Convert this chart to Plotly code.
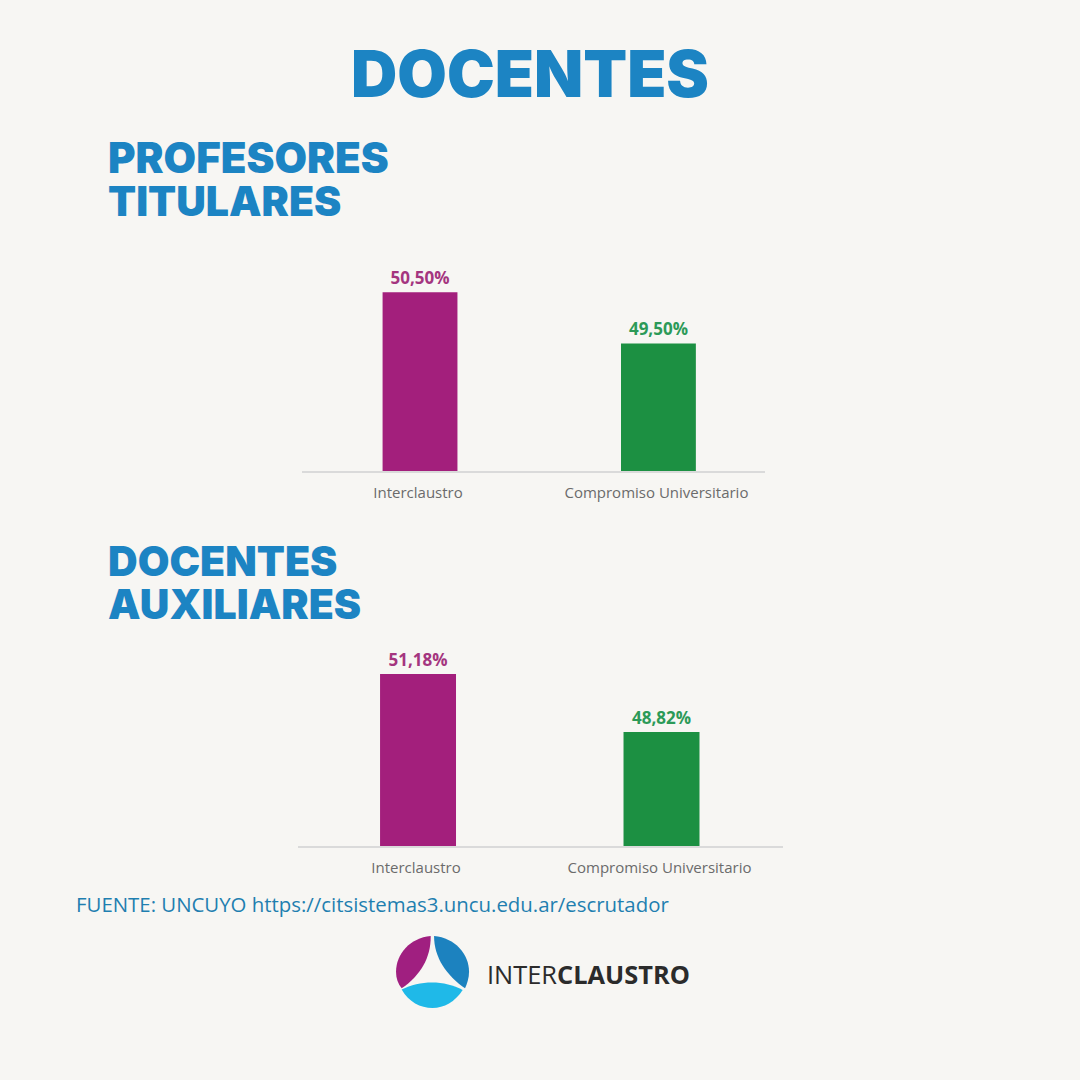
import plotly.graph_objects as go

# Data
categories = ["Interclaustro", "Compromiso Universitario"]
titulares = [50.50, 49.50]
auxiliares = [51.18, 48.82]
titulares_labels = ["50,50%", "49,50%"]
auxiliares_labels = ["51,18%", "48,82%"]

bar_colors = ["#A31F7C", "#1C9042"]
label_colors = ["#A4357F", "#2C9A58"]
blue = "#1C84C3"
bg = "#F7F6F3"
W = 1080


def px(x):
    return x / W


def py(y):
    return 1 - y / W


def pt(x, y):
    return f"{px(x):.4f},{py(y):.4f}"


def label(text, x, y, size, color, family="Inter", weight=900, anchor="left"):
    return dict(text=text, x=px(x), y=py(y), xref="paper", yref="paper", showarrow=False,
                xanchor=anchor, yanchor="middle",
                font=dict(size=size, color=color, family=family, weight=weight))


fig = go.Figure()

# Top chart
fig.add_trace(go.Bar(
    x=categories, y=titulares, text=titulares_labels, textposition="outside",
    textfont=dict(size=17, color=label_colors, family="Open Sans", weight=700),
    marker=dict(color=bar_colors, line=dict(width=0)), width=0.314,
    cliponaxis=False, showlegend=False, xaxis="x", yaxis="y",
))
# Bottom chart
fig.add_trace(go.Bar(
    x=categories, y=auxiliares, text=auxiliares_labels, textposition="outside",
    textfont=dict(size=17, color=label_colors, family="Open Sans", weight=700),
    marker=dict(color=bar_colors, line=dict(width=0)), width=0.312,
    cliponaxis=False, showlegend=False, xaxis="x2", yaxis="y2",
))

axis_style = dict(
    type="category", showline=True, linecolor="#DADADA", linewidth=1.5, showgrid=False,
    ticks="outside", ticklen=7, tickcolor="rgba(0,0,0,0)", ticklabelshift=-2,
    tickfont=dict(size=15, color="#6B6B6B", family="Open Sans"),
)
yaxis_style = dict(visible=False, showgrid=False, zeroline=False)

fig.update_layout(
    width=1080, height=1080,
    autosize=False,
    margin=dict(l=0, r=0, t=0, b=0),
    paper_bgcolor=bg, plot_bgcolor=bg,
    xaxis=dict(domain=[px(302), px(765)], range=[-0.495, 1.447], anchor="y", **axis_style),
    yaxis=dict(domain=[py(471), py(250)], range=[47, 51.33], anchor="x", **yaxis_style),
    xaxis2=dict(domain=[px(298), px(783)], range=[-0.493, 1.499], anchor="y2", **axis_style),
    yaxis2=dict(domain=[py(846), py(640)], range=[44.19, 52.56], anchor="x2", **yaxis_style),
    annotations=[
        label("DOCENTES", 530, 73, 64, blue, anchor="center"),
        label("PROFESORES", 106, 158, 42, blue),
        label("TITULARES", 106, 201, 41, blue),
        label("DOCENTES", 106, 561, 41, blue),
        label("AUXILIARES", 106, 604, 41, blue),
        label("FUENTE: UNCUYO https://citsistemas3.uncu.edu.ar/escrutador", 74, 904, 20.4,
              "#1F7FB0", family="Open Sans", weight=400),
        label("INTER<b>CLAUSTRO</b>", 485, 974, 25.4, "#2B2B2B", family="Open Sans", weight=400),
    ],
    shapes=[
        # logo petals
        dict(type="path", xref="paper", yref="paper", fillcolor="#A01F80", line=dict(width=0),
             path=f"M {pt(430.7, 936)} C {pt(410, 938)} {pt(396, 954)} {pt(396, 972)} "
                  f"C {pt(396, 978)} {pt(398, 984)} {pt(401.7, 988.3)} "
                  f"C {pt(420, 976)} {pt(431, 958)} {pt(430.7, 936)} Z"),
        dict(type="path", xref="paper", yref="paper", fillcolor="#1C82BF", line=dict(width=0),
             path=f"M {pt(434, 936)} C {pt(455, 938)} {pt(469, 954)} {pt(469, 972)} "
                  f"C {pt(469, 978)} {pt(467, 984)} {pt(465, 988.3)} "
                  f"C {pt(447, 976)} {pt(434, 958)} {pt(434, 936)} Z"),
        dict(type="path", xref="paper", yref="paper", fillcolor="#1FB9E8", line=dict(width=0),
             path=f"M {pt(401.7, 989.5)} C {pt(420, 980)} {pt(445, 980)} {pt(462.7, 990)} "
                  f"C {pt(455, 1002)} {pt(444, 1008)} {pt(432.5, 1008)} "
                  f"C {pt(420, 1008)} {pt(409, 1002)} {pt(401.7, 989.5)} Z"),
    ],
)

# the page's default body margin would push the figure off by 8px
fig.write_html("out.html", config=dict(displayModeBar=False),
               post_script="document.body.style.margin='0';document.body.style.overflow='hidden';document.body.style.background='#F7F6F3';")
